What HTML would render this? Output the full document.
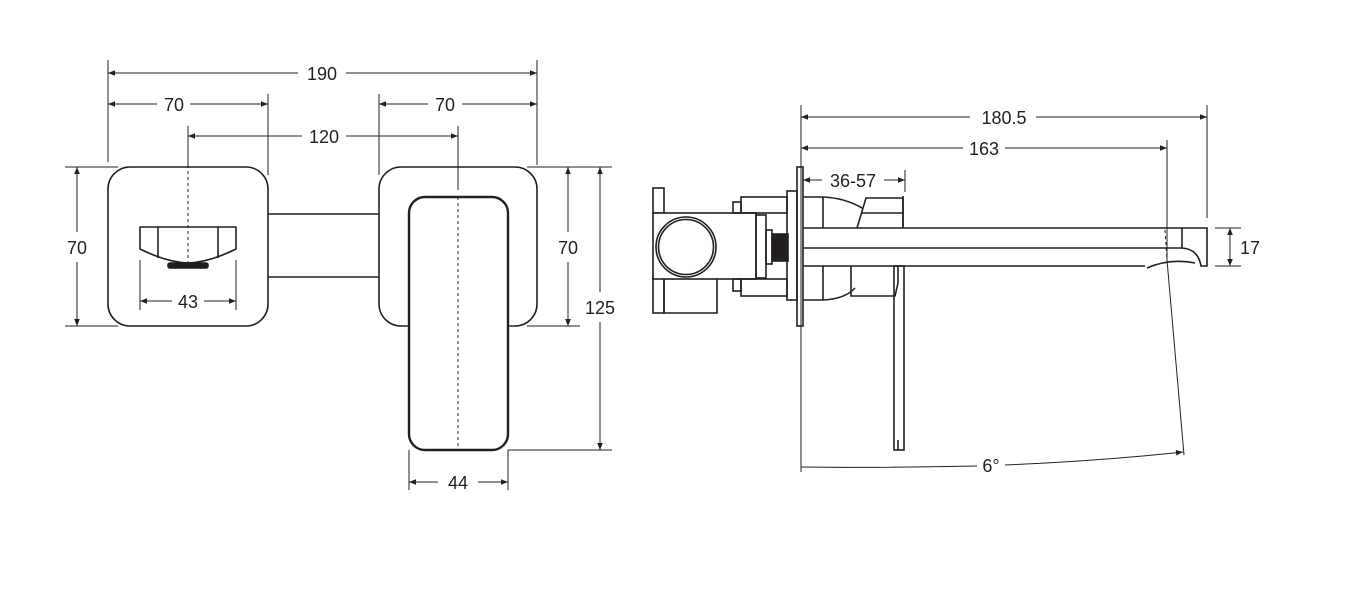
<!DOCTYPE html>
<html><head><meta charset="utf-8"><style>
html,body{margin:0;padding:0;background:#fff;}
svg{display:block;}
text{font-family:"Liberation Sans",sans-serif;font-size:18px;fill:#231f20;}
</style></head><body>
<svg width="1352" height="592" viewBox="0 0 1352 592" xmlns="http://www.w3.org/2000/svg">
<defs>
<marker id="a" viewBox="0 0 10 10" refX="10" refY="5" markerWidth="9" markerHeight="7" orient="auto-start-reverse" markerUnits="userSpaceOnUse"><path d="M0,1 L10,5 L0,9 z" fill="#231f20"/></marker>
</defs>
<g stroke="#231f20" fill="none" stroke-width="1">
<!-- extension lines left view -->
<line x1="108" y1="60" x2="108" y2="162"/>
<line x1="537" y1="60" x2="537" y2="165"/>
<line x1="268" y1="94" x2="268" y2="175"/>
<line x1="379" y1="94" x2="379" y2="175"/>
<line x1="188" y1="126" x2="188" y2="165"/>
<line x1="458" y1="126" x2="458" y2="190"/>
<line x1="65" y1="167" x2="118" y2="167"/>
<line x1="65" y1="326" x2="118" y2="326"/>
<line x1="527" y1="167" x2="580" y2="167"/>
<line x1="527" y1="326" x2="580" y2="326"/>
<line x1="538" y1="167" x2="612" y2="167"/>
<line x1="508" y1="450" x2="612" y2="450"/>
<line x1="409" y1="450" x2="409" y2="490"/>
<line x1="508" y1="450" x2="508" y2="490"/>
<line x1="140" y1="260" x2="140" y2="310"/>
<line x1="236" y1="260" x2="236" y2="310"/>
<!-- dims left -->
<line x1="108" y1="73" x2="298" y2="73" marker-start="url(#a)"/>
<line x1="346" y1="73" x2="537" y2="73" marker-end="url(#a)"/>
<line x1="108" y1="104" x2="157" y2="104" marker-start="url(#a)"/>
<line x1="190" y1="104" x2="268" y2="104" marker-end="url(#a)"/>
<line x1="379" y1="104" x2="428" y2="104" marker-start="url(#a)"/>
<line x1="462" y1="104" x2="537" y2="104" marker-end="url(#a)"/>
<line x1="188" y1="136" x2="302" y2="136" marker-start="url(#a)"/>
<line x1="346" y1="136" x2="458" y2="136" marker-end="url(#a)"/>
<line x1="77" y1="167" x2="77" y2="232" marker-start="url(#a)"/>
<line x1="77" y1="262" x2="77" y2="326" marker-end="url(#a)"/>
<line x1="568" y1="167" x2="568" y2="232" marker-start="url(#a)"/>
<line x1="568" y1="262" x2="568" y2="326" marker-end="url(#a)"/>
<line x1="600" y1="167" x2="600" y2="292" marker-start="url(#a)"/>
<line x1="600" y1="322" x2="600" y2="450" marker-end="url(#a)"/>
<line x1="409" y1="482" x2="438" y2="482" marker-start="url(#a)"/>
<line x1="478" y1="482" x2="508" y2="482" marker-end="url(#a)"/>
<line x1="140" y1="301" x2="172" y2="301" marker-start="url(#a)"/>
<line x1="204" y1="301" x2="236" y2="301" marker-end="url(#a)"/>
</g>
<g stroke="#231f20" fill="none" stroke-width="1.6">
<rect x="108" y="167" width="160" height="159" rx="22"/>
<rect x="379" y="167" width="158" height="159" rx="22"/>
<line x1="268" y1="214" x2="379" y2="214"/>
<line x1="268" y1="277" x2="379" y2="277"/>
<path d="M140,227 H236 V249 Q210,262 188,263 Q166,262 140,249 Z"/>
<line x1="158" y1="227" x2="158" y2="258"/>
<line x1="218" y1="227" x2="218" y2="258"/>
<rect x="168" y="263" width="40" height="5" rx="2" fill="#231f20"/>
<rect x="409" y="197" width="99" height="253" rx="16" fill="#fff" stroke-width="2.4"/>
</g>
<g stroke="#231f20" stroke-width="1" stroke-dasharray="3,3">
<line x1="188" y1="165" x2="188" y2="263"/>
<line x1="458" y1="197" x2="458" y2="446"/>
</g>
<text x="322" y="80" text-anchor="middle">190</text>
<text x="174" y="111" text-anchor="middle">70</text>
<text x="445" y="111" text-anchor="middle">70</text>
<text x="324" y="143" text-anchor="middle">120</text>
<text x="77" y="254" text-anchor="middle">70</text>
<text x="568" y="254" text-anchor="middle">70</text>
<text x="600" y="314" text-anchor="middle">125</text>
<text x="458" y="489" text-anchor="middle">44</text>
<text x="188" y="308" text-anchor="middle">43</text>

<!-- right view -->
<g stroke="#231f20" fill="none" stroke-width="1">
<line x1="801" y1="105" x2="801" y2="472"/>
<line x1="1207" y1="105" x2="1207" y2="218"/>
<line x1="1167" y1="140" x2="1167" y2="260"/>
<line x1="1167" y1="260" x2="1184" y2="455"/>
<line x1="905" y1="170" x2="905" y2="192"/>
<line x1="1215" y1="228" x2="1241" y2="228"/>
<line x1="1215" y1="266" x2="1241" y2="266"/>
<line x1="801" y1="117" x2="970" y2="117" marker-start="url(#a)"/>
<line x1="1036" y1="117" x2="1207" y2="117" marker-end="url(#a)"/>
<line x1="801" y1="148" x2="963" y2="148" marker-start="url(#a)"/>
<line x1="1005" y1="148" x2="1167" y2="148" marker-end="url(#a)"/>
<line x1="803" y1="180" x2="822" y2="180" marker-start="url(#a)"/>
<line x1="884" y1="180" x2="905" y2="180" marker-end="url(#a)"/>
<line x1="1230" y1="228" x2="1230" y2="266" marker-start="url(#a)" marker-end="url(#a)"/>
<path d="M801,467 Q880,468 977,466" />
<path d="M1005,465 Q1100,461 1183,452" marker-end="url(#a)"/>
</g>
<g stroke="#231f20" fill="none" stroke-width="1.6">
<!-- valve left -->
<rect x="653" y="188" width="11" height="25"/>
<rect x="653" y="276" width="11" height="37"/>
<path d="M664,279 V313 H717 V279"/>
<rect x="653" y="213" width="103" height="66" fill="#fff"/>
<circle cx="686" cy="247" r="30"/>
<circle cx="686" cy="247" r="27.5"/>
<rect x="733" y="202" width="8" height="11"/>
<rect x="733" y="279" width="8" height="12"/>
<rect x="741" y="197" width="46" height="16"/>
<rect x="741" y="279" width="46" height="17"/>
<rect x="756" y="215" width="10" height="63"/>
<rect x="766" y="230" width="6" height="34"/>
<rect x="772" y="234" width="16" height="27" fill="#231f20"/>
<rect x="787" y="191" width="10" height="109"/>
<rect x="797" y="167" width="6" height="159"/>
<!-- body -->
<path d="M803,197 H823 Q845,198 862,208"/>
<path d="M803,300 H823 Q845,299 855,288"/>
<line x1="823" y1="197" x2="823" y2="228"/>
<line x1="823" y1="266" x2="823" y2="300"/>
<path d="M857,228 L866,198 H903 V228"/>
<line x1="861" y1="213" x2="903" y2="213"/>
<path d="M851,266 V296 H895 L898,283 V266"/>
<!-- lever -->
<rect x="894" y="266" width="10" height="184"/>
<line x1="898" y1="440" x2="898" y2="450"/>
<!-- spout -->
<path d="M803,228 H1207 V266 H1201 Q1198,248 1180,248 H803"/>
<line x1="803" y1="266" x2="1145" y2="266"/>
<path d="M1147,268 Q1170,258 1195,263" />
<line x1="1182" y1="228" x2="1182" y2="248"/>
<line x1="903" y1="196" x2="903" y2="228"/>
</g>
<line x1="1165" y1="230" x2="1167" y2="260" stroke="#231f20" stroke-dasharray="3,3"/>
<text x="1004" y="124" text-anchor="middle">180.5</text>
<text x="984" y="155" text-anchor="middle">163</text>
<text x="853" y="187" text-anchor="middle">36-57</text>
<text x="1240" y="254">17</text>
<text x="991" y="472" text-anchor="middle">6°</text>
</svg>
</body></html>
